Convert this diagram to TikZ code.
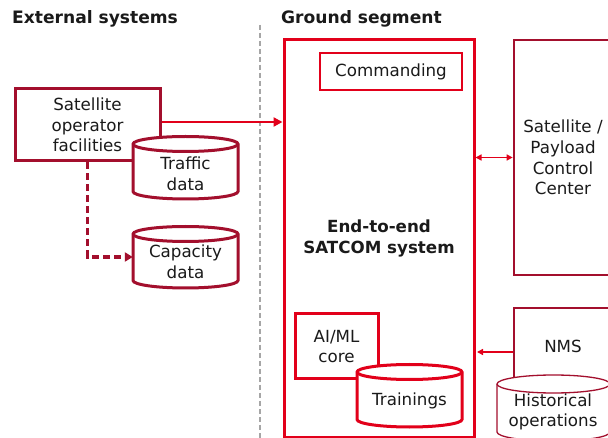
\documentclass[tikz,border=0pt]{standalone}
\usepackage{fontspec}
\setmainfont{DejaVu Sans}
\usetikzlibrary{arrows.meta}
\definecolor{dred}{HTML}{A30F2D}
\definecolor{bred}{HTML}{E2001A}
\definecolor{txtc}{HTML}{1A1A1A}
\newcommand{\mycyl}[6]{%
  \pgfmathsetmacro{\cylrx}{(#3-#2)/2}%
  \pgfmathsetmacro{\cylys}{#5-#6}%
  \path[#1] (#2,#4) -- (#2,\cylys) arc[start angle=180,end angle=360,x radius=\cylrx pt,y radius=#6pt] -- (#3,#4) arc[start angle=0,end angle=180,x radius=\cylrx pt,y radius=#6pt] -- cycle;
  \path[#1, fill=none] (#3,#4) arc[start angle=0,end angle=-180,x radius=\cylrx pt,y radius=#6pt];
}
\begin{document}
\begin{tikzpicture}[x=1pt,y=-1pt,
  txt/.style={font=\fontsize{16.7}{20.6}\selectfont, align=center, inner sep=0pt, text=txtc},
  ttl/.style={font=\fontsize{17.1}{20}\selectfont\bfseries, inner sep=0pt, text=txtc, anchor=base west},
  thickdark/.style={draw=dred, line width=3pt, fill=white},
  thickred/.style={draw=bred, line width=3pt, fill=white},
  thinred/.style={draw=bred, line width=1.5pt, fill=white},
  thindark/.style={draw=dred, line width=1.3pt, fill=white},
  redarrow/.style={draw=bred, line width=2.5pt, -{Triangle[length=9pt,width=9pt]}},
  smallarrow/.style={draw=bred, line width=1.4pt},
  sep/.style={draw=gray!70, line width=1.3pt, dash pattern=on 5pt off 3pt}
]
\clip (0,0) rectangle (608,438);
\fill[white] (0,0) rectangle (608,438);

% titles
\node[ttl] (ext) at (12,23.5) {External systems};
\node[ttl] (gnd) at (281,23.5) {Ground segment};

% separator
\coordinate (septop) at (260,25);
\coordinate (sepbot) at (260,440);
\path[sep] (septop) -- (sepbot);

% external systems
\node[txt, thickdark, minimum width=145pt, minimum height=72pt] (fac) at (87.5,125) {Satellite\\operator\\facilities};
\mycyl{thickdark}{133}{238}{144}{199}{7.5}
\node[txt] (traffic) at (185.5,173.5) {Traffic\\data};
\mycyl{thickdark}{133}{238}{234}{288}{7.5}
\node[txt, minimum width=105pt] (capacity) at (185.5,262) {Capacity\\data};

% ground segment
\node[txt, thickred, minimum width=190pt, minimum height=397pt, font=\fontsize{16.7}{20.6}\selectfont\bfseries] (sys) at (379,238.5) {End-to-end\\SATCOM system};
\node[txt, thinred, minimum width=142pt, minimum height=37pt] (cmd) at (391,71.5) {Commanding};
\node[txt, thickred, minimum width=83pt, minimum height=65pt] (ai) at (336.5,346.5) {AI/ML\\core};
\mycyl{thickred}{357}{462}{372}{427}{7.5}
\node[txt] (train) at (409.5,401) {Trainings};

% right systems
\node[txt, thindark, minimum width=98pt, minimum height=235pt] (spcc) at (563,157.5) {Satellite /\\Payload\\Control\\Center};
\node[txt, thindark, minimum width=98pt, minimum height=76pt] (nms) at (563,346) {NMS};
\mycyl{thindark}{497}{610}{384}{441}{9}
\node[txt] (hist) at (553,412) {Historical\\operations};

% connectors
\draw[redarrow] ([yshift=3pt]fac.east) -- ([yshift=3pt]fac.east -| sys.west);
\draw[dred, line width=3.2pt, dash pattern=on 7pt off 4pt, -{Triangle[length=8pt,width=9pt]}] (fac.south) |- ([yshift=5pt]capacity.west);
\draw[smallarrow, {Triangle[length=6pt,width=6pt]}-{Triangle[length=6pt,width=6pt]}] (sys.east |- spcc.center) -- ([xshift=-0.7pt]spcc.west);
\draw[smallarrow, -{Triangle[length=6pt,width=6pt]}] ([yshift=-6pt]nms.west) -- ([yshift=-6pt, xshift=1.5pt]nms.west -| sys.east);
\end{tikzpicture}
\end{document}
